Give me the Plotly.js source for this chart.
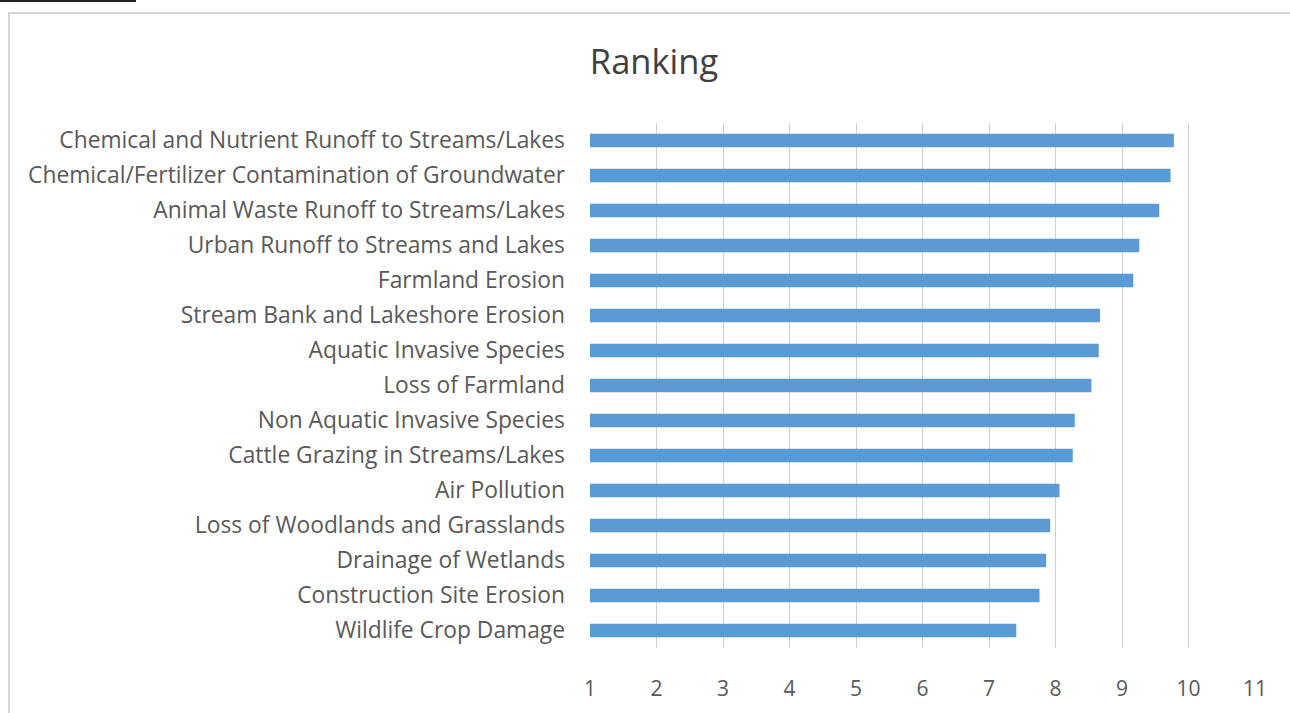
<!DOCTYPE html>
<html>
<head>
<meta charset="utf-8">
<script src="https://cdn.plot.ly/plotly-3.0.1.min.js"></script>
<style>
html,body{margin:0;padding:0;background:#fff;}
#frame{position:absolute;left:8px;top:12px;width:1290px;height:713px;border-left:2px solid #d6d6d6;border-top:2px solid #d6d6d6;}
#mark{position:absolute;left:0;top:0;width:136px;height:2px;background:#222;}
#chart{position:absolute;left:0;top:0;width:1290px;height:713px;}
</style>
</head>
<body>
<div id="frame"></div>
<div id="mark"></div>
<div id="chart"></div>
<script>
const categories = [
  "Chemical and Nutrient Runoff to Streams/Lakes",
  "Chemical/Fertilizer Contamination of Groundwater",
  "Animal Waste Runoff to Streams/Lakes",
  "Urban Runoff to Streams and Lakes",
  "Farmland Erosion",
  "Stream Bank and Lakeshore Erosion",
  "Aquatic Invasive Species",
  "Loss of Farmland",
  "Non Aquatic Invasive Species",
  "Cattle Grazing in Streams/Lakes",
  "Air Pollution",
  "Loss of Woodlands and Grasslands",
  "Drainage of Wetlands",
  "Construction Site Erosion",
  "Wildlife Crop Damage"
];
const ranking = [9.78, 9.73, 9.56, 9.26, 9.17, 8.67, 8.65, 8.54, 8.29, 8.26, 8.06, 7.92, 7.86, 7.76, 7.41];
const xTicks = [1,2,3,4,5,6,7,8,9,10,11];
const axisStart = 1;

const font = "'Open Sans', Lato, sans-serif";
const trace = {
  type: "bar",
  orientation: "h",
  y: categories,
  x: ranking.map(v => v - axisStart),
  base: axisStart,
  marker: {color: "#5b9bd5"},
  width: 0.38,
  hoverinfo: "y"
};

const layout = {
  width: 1290, height: 713,
  paper_bgcolor: "rgba(0,0,0,0)",
  plot_bgcolor: "rgba(0,0,0,0)",
  margin: {l: 590, r: 35, t: 123, b: 65},
  title: {text: "Ranking", font: {family: font, size: 34.5, color: "#404040"}, x: 0.507, xanchor: "center", y: 0.913, yanchor: "middle"},
  showlegend: false,
  xaxis: {
    range: [1, 11],
    tickvals: xTicks,
    ticktext: xTicks.map(String),
    showgrid: true,
    gridcolor: "#d0d0d0",
    gridwidth: 1,
    zeroline: false,
    showline: false,
    ticks: "",
    ticklabelstandoff: 26,
    tickfont: {family: font, size: 21, color: "#595959"},
    fixedrange: true
  },
  yaxis: {
    type: "category",
    autorange: "reversed",
    showgrid: false,
    zeroline: false,
    showline: false,
    ticks: "",
    ticklabelstandoff: 24,
    tickfont: {family: font, size: 22.8, color: "#595959"},
    fixedrange: true
  },
  font: {family: font}
};

Plotly.newPlot("chart", [trace], layout, {displayModeBar: false, staticPlot: true});
</script>
</body>
</html>
